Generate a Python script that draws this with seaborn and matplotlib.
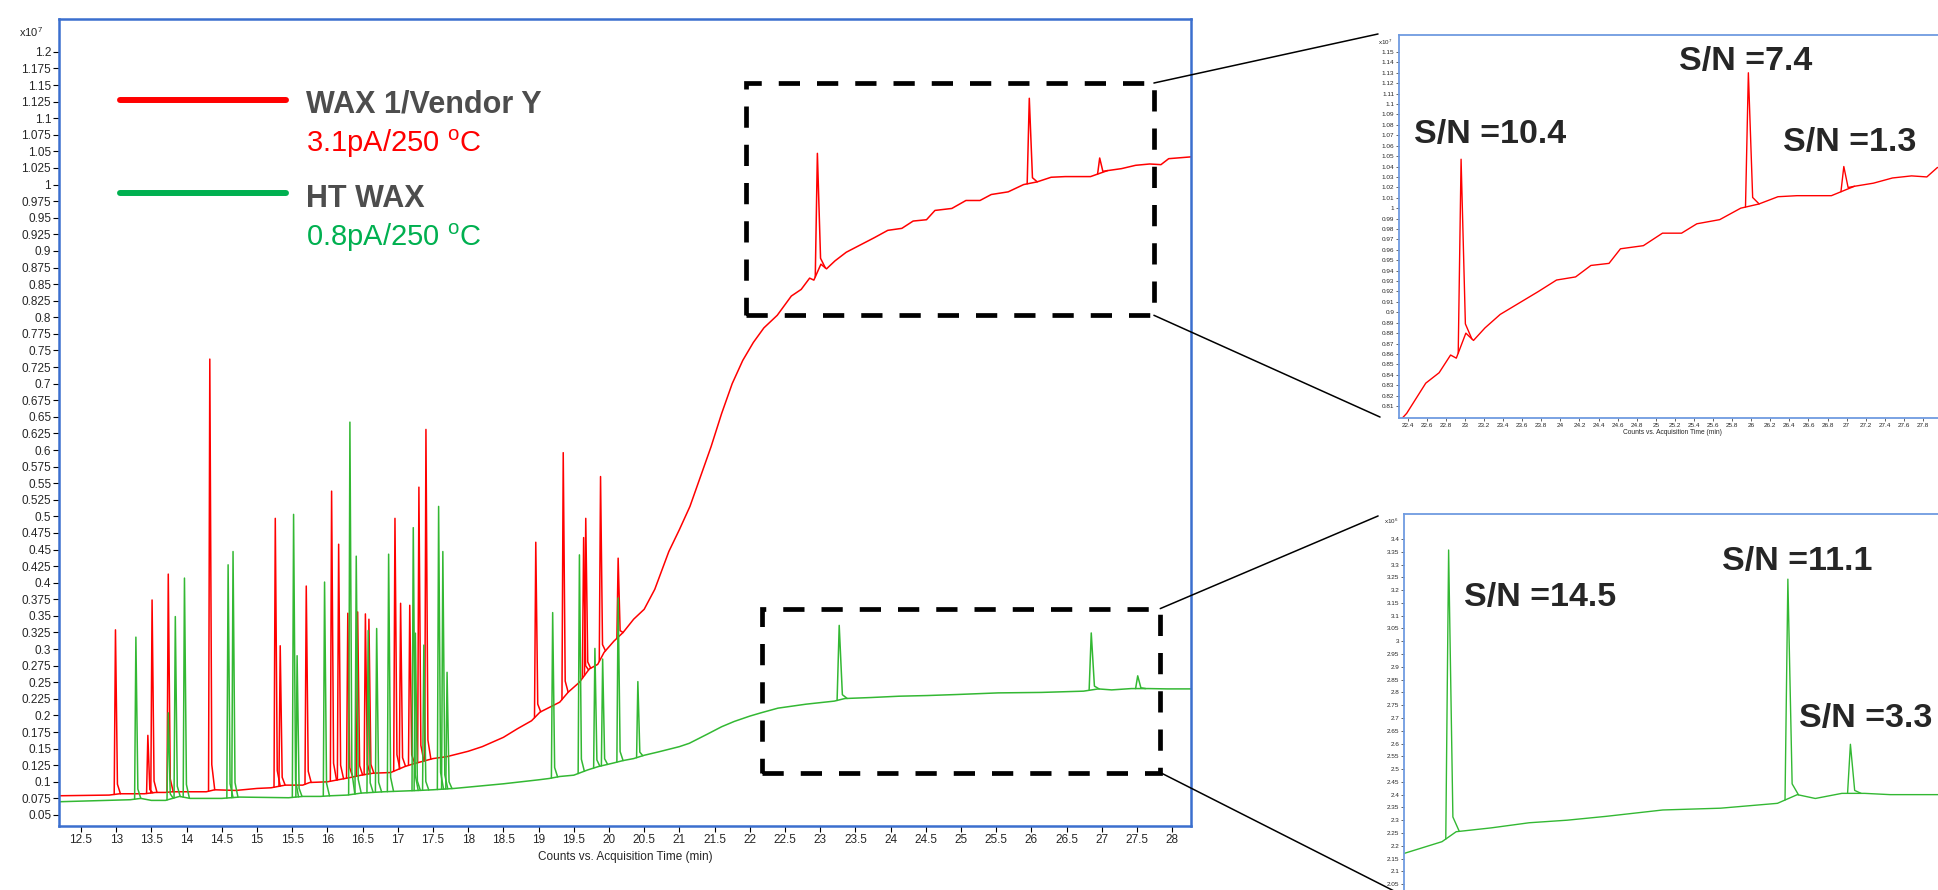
import numpy as np
import pandas as pd
import matplotlib
matplotlib.use('Agg')
import matplotlib.pyplot as plt
import seaborn as sns
from matplotlib.patches import Rectangle, ConnectionPatch

# ---- 数据：从色谱图读出 (单位 x10^7 counts) ----
red_base_t = [12.2, 12.9, 13.05, 13.4, 13.56, 13.7, 13.8, 14.28, 14.4, 14.7,
              15.0, 15.2, 15.4, 15.65, 15.75, 16.0, 16.2, 16.35, 16.48, 16.65,
              16.9, 17.1, 17.22, 17.5, 17.7, 18.0, 18.2, 18.5, 18.7, 18.9,
              19.02, 19.3, 19.42, 19.58, 19.72, 19.84, 19.93, 20.07, 20.2, 20.35,
              20.5, 20.65, 20.85, 21.0, 21.15, 21.3, 21.45, 21.6, 21.75, 21.9,
              22.05, 22.2, 22.39, 22.59, 22.73, 22.85, 22.91, 23.01, 23.09, 23.21,
              23.37, 23.57, 23.77, 23.96, 24.16, 24.32, 24.51, 24.63, 24.87, 25.07,
              25.27, 25.43, 25.67, 25.89, 26.08, 26.28, 26.48, 26.84, 27.08, 27.28,
              27.48, 27.68, 27.84, 27.95, 28.3]
red_base_y = [0.079, 0.080, 0.082, 0.082, 0.084, 0.084, 0.085, 0.085, 0.088, 0.087,
              0.090, 0.091, 0.095, 0.095, 0.099, 0.100, 0.104, 0.107, 0.110, 0.113,
              0.114, 0.123, 0.127, 0.135, 0.138, 0.146, 0.153, 0.167, 0.180, 0.192,
              0.205, 0.220, 0.235, 0.250, 0.270, 0.277, 0.295, 0.312, 0.325, 0.345,
              0.360, 0.390, 0.447, 0.480, 0.515, 0.560, 0.605, 0.655, 0.700, 0.735,
              0.762, 0.784, 0.803, 0.832, 0.842, 0.859, 0.856, 0.880, 0.873, 0.885,
              0.898, 0.909, 0.920, 0.931, 0.934, 0.945, 0.947, 0.961, 0.964, 0.976,
              0.976, 0.985, 0.989, 1.000, 1.004, 1.011, 1.012, 1.012, 1.021, 1.024,
              1.029, 1.031, 1.030, 1.039, 1.042]
red_peak_t = [12.99, 13.45, 13.51, 13.74, 14.33, 15.26, 15.33, 15.70, 16.06, 16.16,
              16.29, 16.43, 16.54, 16.59, 16.96, 17.04, 17.17, 17.30, 17.40, 18.96,
              19.35, 19.64, 19.67, 19.88, 20.13, 22.96, 25.97, 26.97]
red_peak_y = [0.329, 0.170, 0.374, 0.413, 0.737, 0.497, 0.305, 0.395, 0.538, 0.458,
              0.354, 0.356, 0.353, 0.345, 0.497, 0.369, 0.366, 0.544, 0.631, 0.461,
              0.596, 0.468, 0.497, 0.560, 0.437, 1.047, 1.130, 1.040]

green_base_t = [12.2, 13.2, 13.35, 13.5, 13.7, 13.9, 14.05, 14.5, 14.75, 15.45,
                15.65, 15.9, 16.05, 16.28, 16.48, 16.8, 17.05, 17.3, 17.5, 17.8,
                18.5, 19.0, 19.15, 19.3, 19.5, 19.7, 19.85, 20.05, 20.2, 20.35,
                20.5, 20.7, 21.0, 21.14, 21.4, 21.6, 21.78, 22.0, 22.16, 22.4,
                22.8, 23.2, 23.35, 23.72, 24.12, 24.52, 24.93, 25.53, 26.14, 26.74,
                26.95, 27.14, 27.42, 27.66, 27.93, 28.5]
green_base_y = [0.070, 0.073, 0.075, 0.072, 0.072, 0.078, 0.075, 0.075, 0.077, 0.076,
                0.078, 0.078, 0.079, 0.080, 0.083, 0.085, 0.086, 0.087, 0.088, 0.090,
                0.097, 0.103, 0.105, 0.108, 0.110, 0.118, 0.123, 0.128, 0.132, 0.135,
                0.140, 0.145, 0.153, 0.158, 0.172, 0.183, 0.191, 0.199, 0.204, 0.211,
                0.217, 0.2216, 0.2255, 0.2270, 0.2290, 0.2300, 0.2315, 0.2340, 0.2347, 0.2366,
                0.2400, 0.2385, 0.2405, 0.2405, 0.2400, 0.2400]
green_peak_t = [13.28, 13.74, 13.84, 13.97, 14.59, 14.66, 15.52, 15.57, 15.96, 16.32,
                16.41, 16.58, 16.70, 16.87, 17.22, 17.25, 17.37, 17.58, 17.64, 17.70,
                19.20, 19.58, 19.80, 19.91, 20.13, 20.41, 23.27, 26.85, 27.51]
green_peak_y = [0.318, 0.204, 0.349, 0.407, 0.427, 0.447, 0.503, 0.290, 0.401, 0.642,
                0.440, 0.328, 0.331, 0.443, 0.483, 0.324, 0.306, 0.515, 0.447, 0.265,
                0.355, 0.442, 0.301, 0.285, 0.377, 0.251, 0.3357, 0.3243, 0.2597]

# 信噪比标注
sn_red = ['S/N =10.4', 'S/N =7.4', 'S/N =1.3']
sn_green = ['S/N =14.5', 'S/N =11.1', 'S/N =3.3']

main_xticks = np.arange(12.5, 28.01, 0.5)
main_yticks = np.arange(0.05, 1.2001, 0.025)
in1_xticks = np.arange(22.4, 28.01, 0.2)
in1_yticks = np.arange(0.81, 1.1501, 0.01)
in2_yticks = np.arange(2.05, 3.4001, 0.05)

RED = '#ff0000'
GREEN = '#33b833'
LEG_GREEN = '#00b050'
BLUE = '#3b6fce'
LIGHT_BLUE = '#6f9be0'


def build_trace(base_t, base_y, peak_t, peak_y):
    """基线为 unit 0，每个峰是一条独立的小折线"""
    rows = [(0, t, y) for t, y in zip(base_t, base_y)]
    for i, (rt, top) in enumerate(zip(peak_t, peak_y), start=1):
        wf, wb = (0.018, 0.028) if rt < 21 else (0.03, 0.045)
        tl, tm, tr = rt - wf, rt + wb, rt + 2.5 * wb
        yl, ym, yr = np.interp([tl, tm, tr], base_t, base_y)
        rows += [(i, tl, yl), (i, rt, top), (i, tm, ym + 0.06 * (top - ym)), (i, tr, yr)]
    return pd.DataFrame(rows, columns=['unit', 'time', 'counts'])


red_df = build_trace(red_base_t, red_base_y, red_peak_t, red_peak_y)
green_df = build_trace(green_base_t, green_base_y, green_peak_t, green_peak_y)
green_df6 = green_df.assign(counts=green_df['counts'] * 10)  # x10^6

sns.set_style('white')
plt.rcParams['font.family'] = ['Liberation Sans', 'DejaVu Sans']
plt.rcParams['mathtext.default'] = 'regular'

fig = plt.figure(figsize=(19.38, 8.9), dpi=100)
ax = fig.add_axes([0.0307, 0.0719, 0.5836, 0.9064])
ax1 = fig.add_axes([0.7219, 0.5303, 0.2817, 0.4304])
ax2 = fig.add_axes([0.7245, -0.0221, 0.2792, 0.4446])


def fmt(v):
    return f'{round(v, 3):g}'


# ---- 主图 ----
sns.lineplot(data=red_df, x='time', y='counts', units='unit', estimator=None,
             color=RED, lw=1.1, legend=False, ax=ax)
sns.lineplot(data=green_df, x='time', y='counts', units='unit', estimator=None,
             color=GREEN, lw=1.1, legend=False, ax=ax)
ax.set_xlim(12.195, 28.26)
ax.set_ylim(0.0334, 1.249)
ax.set_xticks(main_xticks, [fmt(v) for v in main_xticks])
ax.set_yticks(main_yticks, [fmt(v) for v in main_yticks])
ax.tick_params(axis='both', labelsize=8.5, length=4, width=0.8, color='black', pad=2,
               left=True, bottom=True)
ax.set_xlabel('Counts vs. Acquisition Time (min)', fontsize=8.5, labelpad=3)
ax.set_ylabel('')
for s in ax.spines.values():
    s.set_color(BLUE)
    s.set_linewidth(1.8)
ax.text(-0.036, 0.978, 'x10$^{7}$', transform=ax.transAxes, fontsize=8, ha='left', va='baseline')

# 图例（手绘）
ax.plot([0.0532, 0.2003], [0.900, 0.900], color=RED, lw=4.3, transform=ax.transAxes)
ax.plot([0.0532, 0.2003], [0.785, 0.785], color=LEG_GREEN, lw=4.3, transform=ax.transAxes)
ax.text(0.218, 0.8842, 'WAX 1/Vendor Y', transform=ax.transAxes, fontsize=22,
        fontweight='bold', color='#4d4d4d', va='baseline')
ax.text(0.218, 0.8359, '3.1pA/250 $^{o}$C', transform=ax.transAxes, fontsize=21,
        color=RED, va='baseline')
ax.text(0.218, 0.7677, 'HT WAX', transform=ax.transAxes, fontsize=22,
        fontweight='bold', color='#4d4d4d', va='baseline')
ax.text(0.218, 0.7190, '0.8pA/250 $^{o}$C', transform=ax.transAxes, fontsize=21,
        color=LEG_GREEN, va='baseline')

# 放大区域虚线框
dash = (0, (4.5, 3.6))
top_win = (21.94, 0.803, 27.74 - 21.94, 1.153 - 0.803)
bot_win = (22.17, 0.114, 27.83 - 22.17, 0.361 - 0.114)
for x0, y0, w, h in (top_win, bot_win):
    ax.add_patch(Rectangle((x0, y0), w, h, fill=False, ec='black', lw=3.4, ls=dash))

# ---- 放大图 1：红线 ----
sns.lineplot(data=red_df, x='time', y='counts', units='unit', estimator=None,
             color=RED, lw=1.0, legend=False, ax=ax1)
ax1.set_xlim(22.31, 28.03)
ax1.set_ylim(0.7985, 1.1663)
ax1.set_xticks(in1_xticks, [fmt(v) for v in in1_xticks])
ax1.set_yticks(in1_yticks, [fmt(v) for v in in1_yticks])
ax1.tick_params(axis='both', labelsize=4.6, length=2, width=0.5, pad=1.5, left=True, bottom=True)
ax1.set_xlabel('Counts vs. Acquisition Time (min)', fontsize=4.8, labelpad=1)
ax1.set_ylabel('')
ax1.text(-0.038, 0.974, 'x10$^{7}$', transform=ax1.transAxes, fontsize=4.5, va='baseline')
for txt, (tx, ty) in zip(sn_red, [(22.463, 1.0629), (25.24, 1.1327), (26.33, 1.0552)]):
    ax1.text(tx, ty, txt, fontsize=24.5, fontweight='bold', va='baseline')

# ---- 放大图 2：绿线 (x10^6) ----
sns.lineplot(data=green_df6, x='time', y='counts', units='unit', estimator=None,
             color=GREEN, lw=1.0, legend=False, ax=ax2)
ax2.set_xlim(22.80, 28.51)
ax2.set_ylim(1.95, 3.498)
ax2.set_yticks(in2_yticks, [fmt(v) for v in in2_yticks])
ax2.set_xticks([])
ax2.tick_params(axis='y', labelsize=4.6, length=2, width=0.5, pad=1.5, left=True)
ax2.set_xlabel('')
ax2.set_ylabel('')
ax2.text(-0.037, 0.975, 'x10$^{6}$', transform=ax2.transAxes, fontsize=4.5, va='baseline')
for txt, (tx, ty) in zip(sn_green, [(23.43, 3.138), (26.16, 3.279), (26.97, 2.666)]):
    ax2.text(tx, ty, txt, fontsize=24.5, fontweight='bold', va='baseline')

for a in (ax1, ax2):
    for s in a.spines.values():
        s.set_color(LIGHT_BLUE)
        s.set_linewidth(1.3)

# 连接线
links = [((27.74, 1.153), ax1, (-0.0385, 1.0026)),
         ((27.74, 0.803), ax1, (-0.0348, 0.0026)),
         ((27.83, 0.361), ax2, (-0.048, 0.995)),
         ((27.83, 0.114), ax2, (-0.011, 0.042))]
for xy_a, tgt, xy_b in links:
    con = ConnectionPatch(xyA=xy_a, coordsA=ax.transData, xyB=xy_b, coordsB=tgt.transAxes,
                          color='black', lw=1.1)
    fig.add_artist(con)

fig.savefig('out.png', dpi=100)
plt.close(fig)
